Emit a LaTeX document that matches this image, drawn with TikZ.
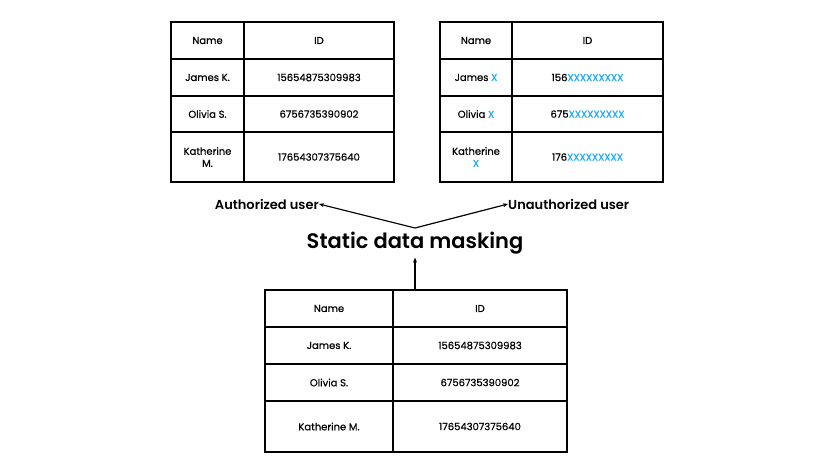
\documentclass[tikz,border=0pt]{standalone}
\usepackage{fontspec}
\setmainfont{Poppins}[BoldFont={Poppins SemiBold}]
\newfontfamily\cellfont{Poppins}[FakeBold=0.6]
\usepackage{tikz}
\usetikzlibrary{positioning,arrows.meta,calc}
\definecolor{maskblue}{HTML}{1EAAF1}
\newcommand{\mx}[1]{\textcolor{maskblue}{#1}}

\begin{document}
\begin{tikzpicture}[
    x=1pt, y=-1pt,
    node distance=0pt,
    cell/.style={draw, line width=1.3pt, inner sep=0pt, outer sep=0pt, align=center, font=\cellfont\fontsize{10}{12}\selectfont},
    namecol/.style={cell, minimum width=#1},
    idcol/.style={cell, minimum width=#1},
    label/.style={inner sep=0pt, font=\fontsize{13}{15}\selectfont\bfseries},
    arr/.style={-{Stealth[length=5pt, width=4pt]}, line width=1.2pt}
  ]
    \useasboundingbox (0,0) rectangle (834,469);

    % authorized view
    \node[namecol=73pt, minimum height=37pt, anchor=north west] (a1) at (171,22) {Name};
    \node[idcol=150pt, minimum height=37pt, right=of a1] (a2) {ID};
    \node[namecol=73pt, minimum height=37pt, below=of a1] (a3) {James K.};
    \node[idcol=150pt, minimum height=37pt, right=of a3] (a4) {15654875309983};
    \node[namecol=73pt, minimum height=36pt, below=of a3] (a5) {Olivia S.};
    \node[idcol=150pt, minimum height=36pt, right=of a5] (a6) {6756735390902};
    \node[namecol=73pt, minimum height=50pt, below=of a5] (a7) {Katherine\\M.};
    \node[idcol=150pt, minimum height=50pt, right=of a7] (a8) {17654307375640};

    % unauthorized view
    \node[namecol=72pt, minimum height=37pt, anchor=north west] (u1) at (440,22) {Name};
    \node[idcol=151pt, minimum height=37pt, right=of u1] (u2) {ID};
    \node[namecol=72pt, minimum height=37pt, below=of u1] (u3) {James \mx{X}};
    \node[idcol=151pt, minimum height=37pt, right=of u3] (u4) {156\mx{XXXXXXXXX}};
    \node[namecol=72pt, minimum height=36pt, below=of u3] (u5) {Olivia \mx{X}};
    \node[idcol=151pt, minimum height=36pt, right=of u5] (u6) {675\mx{XXXXXXXXX}};
    \node[namecol=72pt, minimum height=50pt, below=of u5] (u7) {Katherine\\\mx{X}};
    \node[idcol=151pt, minimum height=50pt, right=of u7] (u8) {176\mx{XXXXXXXXX}};

    % source table
    \node[namecol=128pt, minimum height=37pt, anchor=north west] (s1) at (265,290) {Name};
    \node[idcol=174pt, minimum height=37pt, right=of s1] (s2) {ID};
    \node[namecol=128pt, minimum height=37pt, below=of s1] (s3) {James K.};
    \node[idcol=174pt, minimum height=37pt, right=of s3] (s4) {15654875309983};
    \node[namecol=128pt, minimum height=37pt, below=of s3] (s5) {Olivia S.};
    \node[idcol=174pt, minimum height=37pt, right=of s5] (s6) {6756735390902};
    \node[namecol=128pt, minimum height=51pt, below=of s5] (s7) {Katherine M.};
    \node[idcol=174pt, minimum height=51pt, right=of s7] (s8) {17654307375640};

    \node[font=\fontsize{21}{24}\selectfont\bfseries] (title) at (415,243) {Static data masking};
    \node[label, anchor=east] (auth) at (319,204) {Authorized user};
    \node[label, anchor=west] (unauth) at (508,204) {Unauthorized user};

    \coordinate (fork) at (415,228);
    \coordinate (src) at (415,290);
    \draw[arr] (fork) -- (auth.east);
    \draw[arr] (fork) -- (unauth.west);
    \draw[arr] (src) -- (title.south);
\end{tikzpicture}
\end{document}
